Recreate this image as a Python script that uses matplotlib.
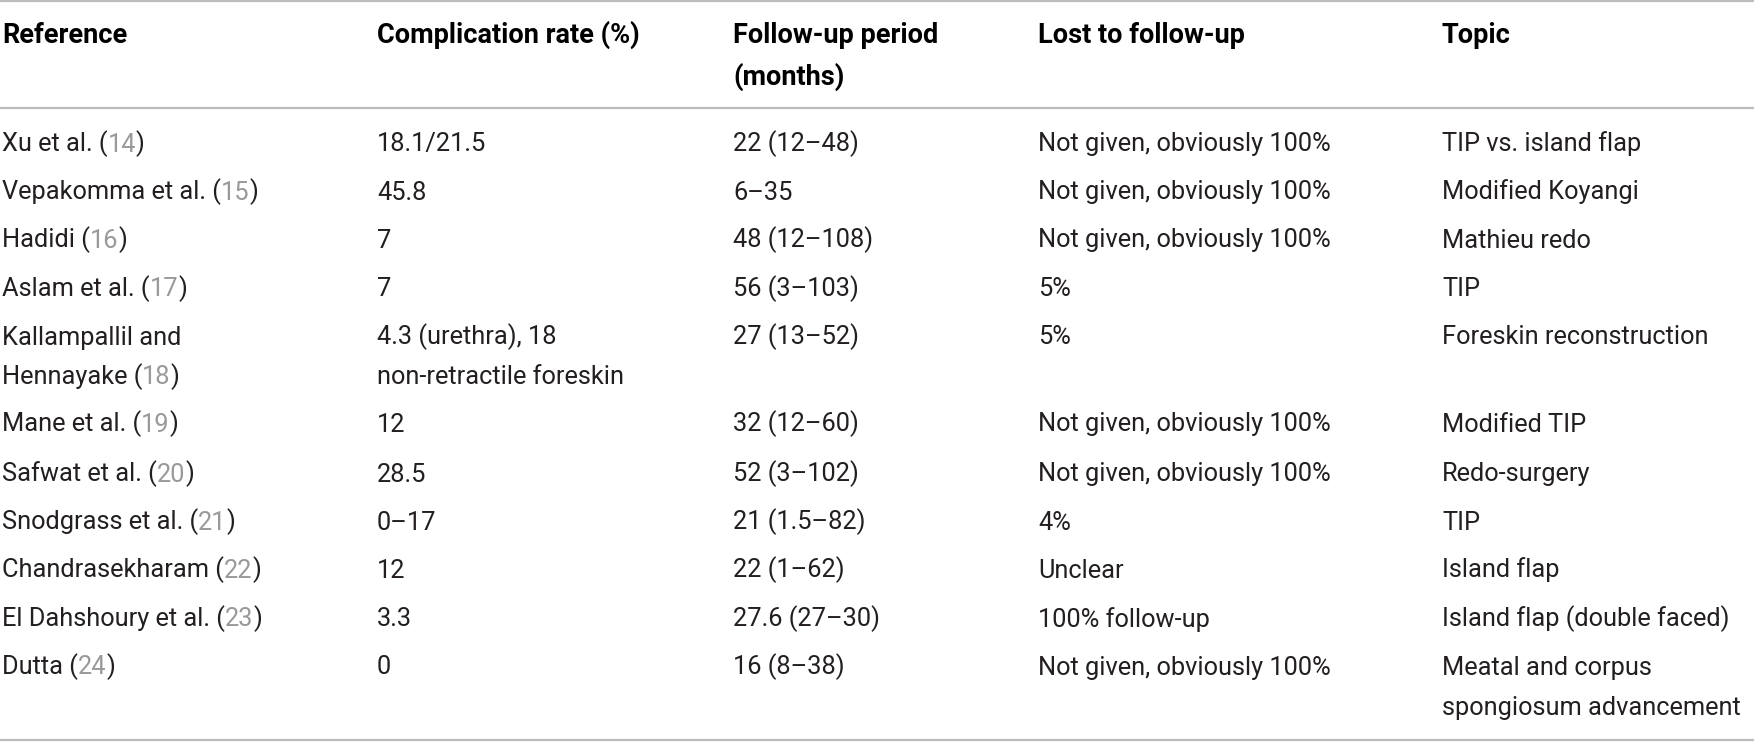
import matplotlib
matplotlib.use("Agg")
import matplotlib.pyplot as plt

plt.rcParams['font.family'] = ['Roboto', 'DejaVu Sans']

headers = ["Reference", "Complication rate (%)", "Follow-up period\n(months)",
           "Lost to follow-up", "Topic"]

authors = ["Xu et al.", "Vepakomma et al.", "Hadidi", "Aslam et al.",
           "Kallampallil and\nHennayake", "Mane et al.", "Safwat et al.",
           "Snodgrass et al.", "Chandrasekharam", "El Dahshoury et al.", "Dutta"]
ref_nums = ["14", "15", "16", "17", "18", "19", "20", "21", "22", "23", "24"]
complication = ["18.1/21.5", "45.8", "7", "7",
                "4.3 (urethra), 18\nnon-retractile foreskin",
                "12", "28.5", "0\u201317", "12", "3.3", "0"]
followup = ["22 (12\u201348)", "6\u201335", "48 (12\u2013108)", "56 (3\u2013103)",
            "27 (13\u201352)", "32 (12\u201360)", "52 (3\u2013102)", "21 (1.5\u201382)",
            "22 (1\u201362)", "27.6 (27\u201330)", "16 (8\u201338)"]
lost = ["Not given, obviously 100%", "Not given, obviously 100%",
        "Not given, obviously 100%", "5%", "5%", "Not given, obviously 100%",
        "Not given, obviously 100%", "4%", "Unclear", "100% follow-up",
        "Not given, obviously 100%"]
topic = ["TIP vs. island flap", "Modified Koyangi", "Mathieu redo", "TIP",
         "Foreskin reconstruction", "Modified TIP", "Redo-surgery", "TIP",
         "Island flap", "Island flap (double faced)",
         "Meatal and corpus\nspongiosum advancement"]

W, H = 1754, 742
col_x = [2, 377, 733, 1038, 1442]
row_y = [142, 190, 238, 287, 335, 422, 472, 520, 568, 617, 665]
line_gap = 40
cap = 9.5  # half cap height in px

TXT = '#231f20'
GREY = '#999999'
RULE = '#bdbdbd'
FS_HEAD = 19.5
FS = 18.3

fig = plt.figure(figsize=(W / 100, H / 100), dpi=100)
ax = fig.add_axes([0, 0, 1, 1])
ax.set_xlim(0, W)
ax.set_ylim(H, 0)
ax.axis('off')

# rules
for y in [1, 108, 740]:
    ax.plot([0, W], [y, y], color=RULE, lw=1.6, solid_capstyle='butt')

# header
for x, h in zip(col_x, headers):
    for k, part in enumerate(h.split("\n")):
        ax.text(x, 33 + 10 + k * 42, part, fontsize=FS_HEAD, fontweight='bold',
                color='black', va='baseline', ha='left')

renderer = fig.canvas.get_renderer()


def cell(x, y, s):
    for k, part in enumerate(s.split("\n")):
        ax.text(x, y + cap + k * line_gap, part, fontsize=FS, color=TXT,
                va='baseline', ha='left')


for i, y in enumerate(row_y):
    # reference column with grey citation number
    lines = authors[i].split("\n")
    for k, part in enumerate(lines[:-1]):
        ax.text(col_x[0], y + cap + k * line_gap, part, fontsize=FS, color=TXT,
                va='baseline', ha='left')
    yy = y + cap + (len(lines) - 1) * line_gap
    t = ax.text(col_x[0], yy, lines[-1] + " (", fontsize=FS, color=TXT,
                va='baseline', ha='left')
    for piece, c in [(ref_nums[i], GREY), (")", TXT)]:
        bb = t.get_window_extent(renderer=renderer)
        xx = ax.transData.inverted().transform((bb.x1, 0))[0]
        t = ax.text(xx, yy, piece, fontsize=FS, color=c, va='baseline', ha='left')
    cell(col_x[1], y, complication[i])
    cell(col_x[2], y, followup[i])
    cell(col_x[3], y, lost[i])
    cell(col_x[4], y, topic[i])

fig.savefig("out.png", dpi=100)
